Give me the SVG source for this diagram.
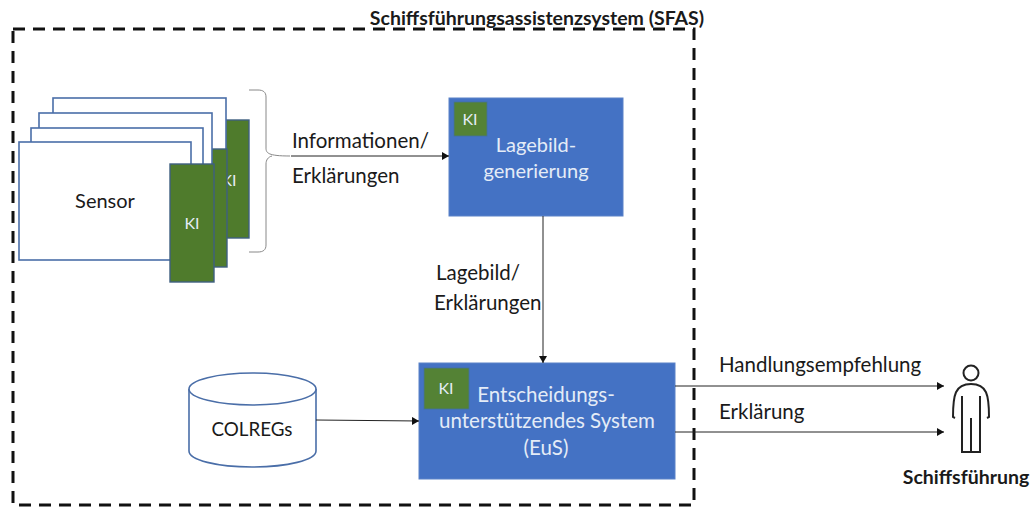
<svg xmlns="http://www.w3.org/2000/svg" width="1033" height="507" viewBox="0 0 1033 507">
<style>
text{font-family:Lato,"Open Sans","Liberation Sans",sans-serif;font-size:20.5px;fill:#1a1a1a}
.w{fill:#e4ecf7}
.c{text-anchor:middle}
.h{font-size:19.5px;font-weight:700}
.k{font-size:16px}
.n{font-size:20px}
.m{font-size:18.800px}
.s{fill:#fff;stroke:#4a6ea8;stroke-width:1.6}
.g{fill:#4f7b2c;stroke:#3f6080;stroke-width:1.4}
.b{fill:#4472c4;stroke:#5a82c8;stroke-width:1}
.i{fill:#548235;stroke:#44709a;stroke-width:.8}
.l{fill:none;stroke:#222;stroke-width:1}
.p{fill:none;stroke:#222;stroke-width:2}
</style>
<defs><marker id="a" markerWidth="8" markerHeight="8" refX="7" refY="4" orient="auto" markerUnits="userSpaceOnUse"><path d="M0,0L7,4L0,8z" fill="#111"/></marker></defs>
<rect id="sfas" x="13" y="29" width="681" height="476" fill="none" stroke="#111" stroke-width="3" stroke-dasharray="12 8"/>
<text x="537" y="25" class="c h">Schiffsführungsassistenzsystem (SFAS)</text>
<g id="sensor-stack">
<rect class="g" x="210" y="120" width="39" height="118"/>
<rect class="s" x="53" y="98" width="173" height="118"/>
<text x="229" y="186" class="c w k">KI</text>
<rect class="g" x="188" y="149" width="39" height="118"/>
<rect class="s" x="39" y="113" width="173" height="118"/>
<rect class="s" x="31" y="128" width="172" height="118"/>
<rect class="s" x="19" y="142" width="172" height="118"/>
<rect class="g" x="170" y="164" width="44" height="118"/>
<text x="105" y="208" class="c n">Sensor</text>
<text x="192" y="229" class="c w k">KI</text>
</g>
<path id="brace" d="M249,90H258C263,90 266,92 266,97V148C266,153 268,156 290,156M249,252H258C263,252 266,250 266,245V164C266,160 268,157 272,156" fill="none" stroke="#888" stroke-width="1"/>
<g id="lagebildgenerierung">
<rect class="b" x="449" y="98" width="174" height="118"/>
<rect class="i" x="454" y="102" width="33" height="34"/>
<text x="470" y="125" class="c w k">KI</text>
<text x="536" y="152" class="c w n">Lagebild-</text>
<text x="536" y="178" class="c w n">generierung</text>
</g>
<g id="eus">
<rect class="b" x="419" y="363" width="256" height="116"/>
<rect class="i" x="424" y="368" width="45" height="41"/>
<text x="446" y="394" class="c w k">KI</text>
<text x="546" y="402" class="c w">Entscheidungs-</text>
<text x="547" y="428" class="c w">unterstützendes System</text>
<text x="546" y="455" class="c w">(EuS)</text>
</g>
<g id="colregs">
<path class="s" d="M189,389V451C189,460 217,467 252,467C287,467 316,460 316,451V389"/>
<ellipse class="s" cx="252.500" cy="389" rx="63.500" ry="16"/>
<text x="252" y="436" class="c m">COLREGs</text>
</g>
<g id="person">
<circle class="p" cx="971" cy="373" r="7.500"/>
<path class="p" d="M955,418L953,417C953,395 955,384 971,384C987,384 989,395 989,417L987,418M962,396V452H980V396M971,418V452"/>
<text x="966" y="484" class="c h">Schiffsführung</text>
</g>
<g id="connectors">
<path class="l" d="M291,156H449" marker-end="url(#a)"/>
<path class="l" d="M543,216V363" marker-end="url(#a)"/>
<path class="l" d="M316,420L419,421" marker-end="url(#a)"/>
<path class="l" d="M675,386H944" marker-end="url(#a)"/>
<path class="l" d="M675,432H944" marker-end="url(#a)"/>
</g>
<text x="292" y="148">Informationen/</text>
<text x="292" y="183">Erklärungen</text>
<text x="436" y="280">Lagebild/</text>
<text x="434" y="310">Erklärungen</text>
<text x="719" y="372">Handlungsempfehlung</text>
<text x="719" y="419">Erklärung</text>
</svg>
